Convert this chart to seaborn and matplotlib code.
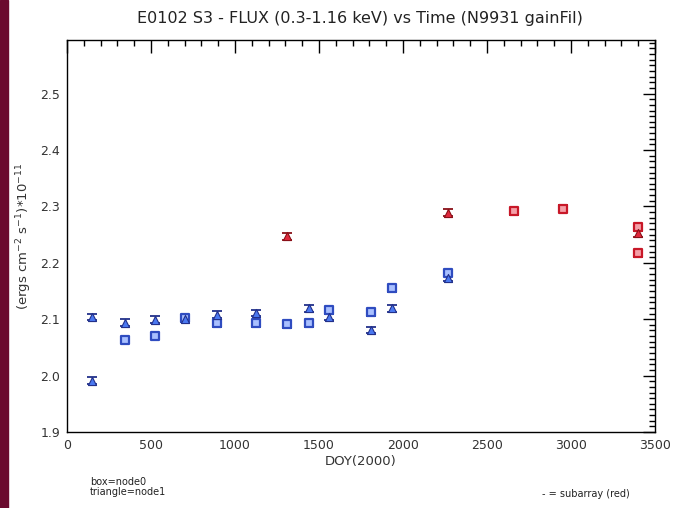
import matplotlib
matplotlib.use("Agg")
import matplotlib.pyplot as plt
import seaborn as sns
import pandas as pd
from matplotlib.ticker import MultipleLocator, FormatStrFormatter
from matplotlib.patches import Rectangle

# node0 (boxes)
box_doy = [345, 524, 702, 893, 1125, 1310, 1440, 1560, 1810, 1935, 2268, 2661, 2953, 3399, 3399]
box_flux = [2.063, 2.070, 2.102, 2.093, 2.093, 2.091, 2.093, 2.116, 2.112, 2.155, 2.182, 2.291, 2.296, 2.263, 2.217]
box_sub = [0, 0, 0, 0, 0, 0, 0, 0, 0, 0, 0, 1, 1, 1, 1]
# node1 (triangles)
tri_doy = [149, 149, 345, 524, 702, 893, 1125, 1310, 1440, 1560, 1810, 1935, 2268, 2268, 3399]
tri_flux = [2.104, 1.991, 2.094, 2.099, 2.101, 2.108, 2.111, 2.247, 2.119, 2.104, 2.081, 2.119, 2.173, 2.289, 2.252]
tri_sub = [0, 0, 0, 0, 0, 0, 0, 1, 0, 0, 0, 0, 0, 1, 1]
err = 0.006

df_box = pd.DataFrame({"doy": box_doy, "flux": box_flux,
                       "sub": ["red" if s else "blue" for s in box_sub]})
df_tri = pd.DataFrame({"doy": tri_doy, "flux": tri_flux,
                       "sub": ["red" if s else "blue" for s in tri_sub]})

sns.set_style("white")
plt.rcParams['font.family'] = ['DejaVu Sans']

fig = plt.figure(figsize=(6.73, 5.08), dpi=100)
fig.patches.append(Rectangle((0, 0), 8 / 673, 1, transform=fig.transFigure,
                             color="#6b0a2e", zorder=0))
ax = fig.add_axes([67 / 673, 1 - 432 / 508, 588 / 673, 392 / 508])

face = {"blue": "#4a78f0", "red": "#e0283c"}
light = {"blue": "#a9c0ff", "red": "#f4a0a8"}
boxedge = {"blue": "#2f4cc0", "red": "#c81828"}
edge = {"blue": "#22308a", "red": "#8a1018"}

for d in (df_box, df_tri):
    for sub, g in d.groupby("sub"):
        ax.errorbar(g["doy"], g["flux"], yerr=err, fmt="none", ecolor=edge[sub],
                    elinewidth=1.0, capsize=3.5, capthick=1.3, zorder=2)

# boxes: light interior, strong outline
for sub, g in df_box.groupby("sub"):
    sns.scatterplot(data=g, x="doy", y="flux", marker="s", s=28,
                    color=light[sub], edgecolor=boxedge[sub], linewidth=1.6,
                    legend=False, ax=ax, zorder=3)
# triangles: filled
for sub, g in df_tri.groupby("sub"):
    sns.scatterplot(data=g, x="doy", y="flux", marker="^", s=34,
                    color=face[sub], edgecolor=edge[sub], linewidth=0.8,
                    legend=False, ax=ax, zorder=3)

ax.set_xlim(0, 3500)
ax.set_ylim(1.9, 2.595)
ax.xaxis.set_major_locator(MultipleLocator(500))
ax.xaxis.set_minor_locator(MultipleLocator(100))
ax.yaxis.set_major_locator(MultipleLocator(0.1))
ax.yaxis.set_minor_locator(MultipleLocator(0.01))
ax.yaxis.set_major_formatter(FormatStrFormatter("%.1f"))
ax.tick_params(which="both", direction="in", top=True, right=True, colors="black",
               labelcolor="#333333", labelsize=9)
ax.tick_params(which="major", length=9, width=1, pad=5)
ax.tick_params(which="minor", length=4, width=1)
for sp in ax.spines.values():
    sp.set_color("black")
    sp.set_linewidth(1)

ax.set_xlabel("DOY(2000)", fontsize=9.5, color="#333333", labelpad=2)
ax.set_ylabel("(ergs cm$^{-2}$ s$^{-1}$)*10$^{-11}$", fontsize=9.5, color="#333333", labelpad=8)
ax.yaxis.set_label_coords(-33 / 588, 0.5)
fig.text(0.535, 1 - 18 / 508, "E0102 S3 - FLUX (0.3-1.16 keV) vs Time (N9931 gainFil)",
         ha="center", va="center", fontsize=11.5, color="#222222")
fig.text(90 / 673, 1 - 487 / 508, "box=node0\ntriangle=node1", ha="left", va="center",
         fontsize=7, color="#222222", linespacing=1.1)
fig.text(630 / 673, 1 - 494 / 508, "- = subarray (red)", ha="right", va="center",
         fontsize=7, color="#222222")

fig.savefig("out.png", dpi=100)
